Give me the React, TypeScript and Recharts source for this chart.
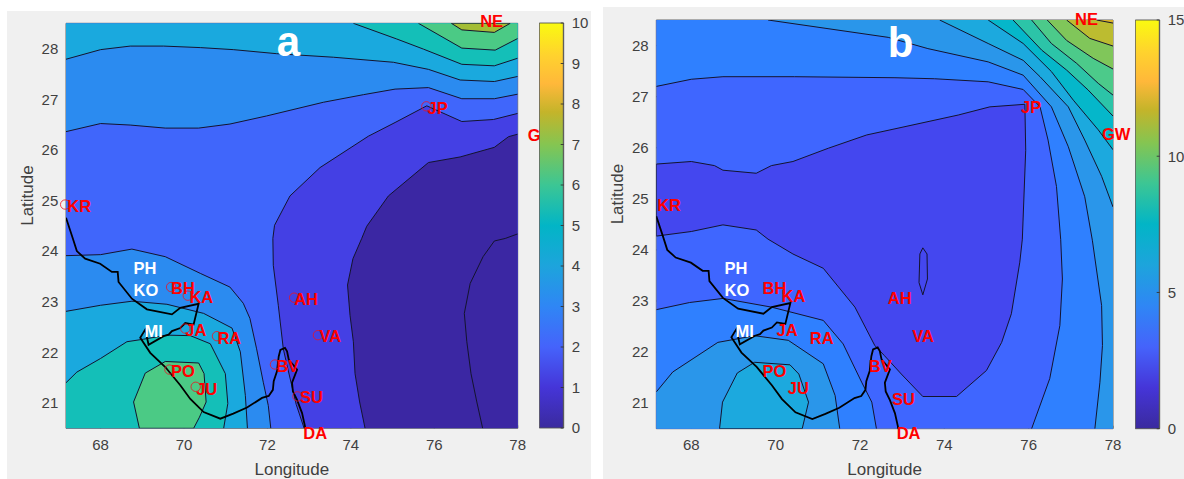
import React from "react"
import {
  Bar,
  BarChart,
  ReferenceDot,
  Scatter,
  ScatterChart,
  XAxis,
  YAxis,
} from "recharts"

type Pt = [number, number]
type Region = { line: Pt[]; close: Pt[]; color: string }
type Tag = [string, number, number]

const LON_MIN = 67.17
const LON_MAX = 78
const LAT_MIN = 20.5
const LAT_MAX = 28.5
const BL: Pt = [LON_MIN, LAT_MIN]
const BR: Pt = [LON_MAX, LAT_MIN]
const TR: Pt = [LON_MAX, LAT_MAX]
const TL: Pt = [LON_MIN, LAT_MAX]

const lonTicks = [68, 70, 72, 74, 76, 78]
const latTicks = [21, 22, 23, 24, 25, 26, 27, 28]
const barTicksA = [0, 1, 2, 3, 4, 5, 6, 7, 8, 9, 10]
const barTicksB = [0, 5, 10, 15]

const coast: Pt[] = [
  [67.17, 24.66], [67.33, 24.26], [67.43, 24.0], [67.63, 23.85], [67.99, 23.75], [68.27, 23.59],
  [68.41, 23.59], [68.43, 23.39], [68.75, 23.06], [69.11, 22.85], [69.71, 22.75], [69.91, 22.88],
  [70.35, 22.96], [70.23, 22.55], [70.03, 22.58], [69.91, 22.48], [69.71, 22.42], [69.63, 22.35],
  [69.51, 22.32], [69.15, 22.15], [69.07, 22.45], [68.95, 22.29], [69.19, 21.99], [69.55, 21.71],
  [69.91, 21.35], [70.15, 21.08], [70.47, 20.82], [70.87, 20.69], [71.18, 20.79], [71.51, 20.91],
  [71.87, 21.1], [72.03, 21.14], [72.13, 21.26], [72.15, 21.43], [72.23, 21.63], [72.27, 21.92],
  [72.31, 22.05], [72.42, 22.09], [72.47, 22.02], [72.51, 21.86], [72.71, 21.66], [72.59, 21.4],
  [72.61, 21.23], [72.71, 21.06], [72.83, 20.8], [72.9, 20.54], [72.9, 20.5],
]

// panel a contours
const a05: Pt[] = [[77.16, 20.5], [77.02, 21.02], [76.88, 21.58], [76.78, 22.21], [76.72, 22.77], [76.86, 23.36], [77.17, 23.89], [77.44, 24.2], [77.7, 24.25], [78, 24.34]]
const a1: Pt[] = [[74.34, 20.5], [74.21, 21.02], [74.1, 21.58], [74.06, 22.21], [73.98, 22.73], [73.92, 23.33], [74.05, 23.85], [74.26, 24.25], [74.38, 24.49], [74.9, 25.09], [75.86, 25.75], [76.62, 25.86], [77.44, 26.05], [77.78, 26.26], [78, 26.31]]
const a2: Pt[] = [[72.88, 20.5], [72.69, 20.97], [72.47, 21.74], [72.38, 22.07], [72.26, 22.93], [72.14, 23.72], [72.13, 24.25], [72.17, 24.51], [72.54, 25.09], [73.26, 25.65], [74.42, 26.27], [75.06, 26.54], [75.82, 26.87], [76.66, 26.56], [77.42, 26.6], [78, 26.72]]
const a3: Pt[] = [[67.17, 26.36], [68, 26.52], [68.71, 26.49], [69.55, 26.43], [70.35, 26.43], [71.1, 26.51], [71.98, 26.67], [73.34, 26.94], [74.3, 27.09], [75.06, 27.2], [75.86, 27.23], [76.66, 27.01], [77.44, 27.01], [78, 27.1]]
const a4: Pt[] = [[67.17, 27.79], [68, 27.98], [68.71, 28.05], [69.51, 28.05], [70.39, 28.02], [71.18, 27.98], [72.22, 27.9], [73.58, 27.83], [75.02, 27.73], [75.86, 27.59], [76.62, 27.38], [77.44, 27.35], [78, 27.45]]
const a5: Pt[] = [[74.06, 28.5], [75.1, 28.19], [75.74, 27.99], [76.66, 27.69], [77.44, 27.66], [78, 27.81]]
const a6: Pt[] = [[75.62, 28.5], [76.66, 28.01], [77.46, 27.97], [78, 28.2]]
const a7: Pt[] = [[76.41, 28.5], [76.66, 28.37], [77.44, 28.32], [77.82, 28.5]]
const aHill3: Pt[] = [[67.17, 23.91], [68, 23.93], [68.75, 24.04], [69.55, 23.89], [70.39, 23.56], [71.1, 23.29], [71.42, 22.97], [71.58, 22.67], [71.74, 22.07], [71.9, 21.41], [72.02, 20.95], [72.08, 20.5]]
const aHill4: Pt[] = [[67.17, 22.81], [68, 22.93], [68.75, 23.01], [69.59, 22.95], [70.47, 22.77], [71.15, 22.48], [71.35, 22.01], [71.47, 21.15], [71.52, 20.5]]
const aHill5: Pt[] = [[67.17, 21.4], [67.43, 21.61], [68, 21.88], [68.63, 22.21], [69.03, 22.26], [69.59, 22.34], [70.15, 22.33], [70.63, 22.17], [70.99, 21.58], [71.05, 20.99], [70.95, 20.5]]
const aHill6: Pt[] = [[68.93, 20.5], [68.79, 21.02], [69.07, 21.59], [69.55, 21.82], [70.35, 21.79], [70.48, 21.58], [70.53, 21.02], [70.37, 20.72], [70.23, 20.5]]

// panel b contours
const bCore: Pt[] = [[67.17, 25.68], [68, 25.73], [68.55, 25.65], [68.75, 25.56], [69.54, 25.5], [69.9, 25.65], [70.41, 25.73], [71.25, 25.99], [72.16, 26.25], [72.83, 26.37], [74.33, 26.64], [75.08, 26.8], [75.91, 26.85], [75.93, 25.95], [75.85, 24.21], [75.79, 23.76], [75.59, 22.75], [75.36, 22.19], [75, 21.64], [74.29, 21.13], [73.49, 21.13], [72.98, 21.57], [72.58, 21.93], [72.35, 22.13], [71.88, 22.88], [71.13, 23.64], [70.41, 23.92], [69.82, 24.21], [69.54, 24.39], [68.75, 24.49], [68, 24.36], [67.17, 24.27]]
const bPocket: Pt[] = [[73.49, 24.04], [73.59, 23.92], [73.6, 23.43], [73.49, 23.12], [73.4, 23.36], [73.42, 23.92], [73.49, 24.04]]
const bLine1: Pt[] = [[67.17, 27.2], [68, 27.34], [68.75, 27.39], [70.45, 27.39], [72.83, 27.37], [73.77, 27.35], [75.04, 27.29], [75.87, 27.14], [76.27, 26.8], [76.46, 26.15], [76.66, 25.24], [76.76, 24.2], [76.8, 23.43], [76.74, 22.52], [76.5, 21.48], [76.07, 20.5]]
const bLine2: Pt[] = [[69.82, 28.5], [72.67, 28.16], [73.61, 27.94], [75.04, 27.68], [75.87, 27.42], [76.54, 26.8], [76.94, 26.02], [77.33, 25.04], [77.51, 24.19], [77.73, 22.91], [77.75, 22.13], [77.69, 21.41], [77.57, 20.5]]
const bLine3: Pt[] = [[73.89, 28.5], [75.04, 28.04], [75.87, 27.71], [76.27, 27.39], [76.94, 26.8], [77.33, 26.15], [77.73, 25.44], [78, 24.84]]
const bLine4: Pt[] = [[75.04, 28.5], [75.87, 28.04], [76.54, 27.49], [77.06, 26.93], [77.65, 26.35], [78, 25.96]]
const bLine5: Pt[] = [[75.63, 28.5], [76.31, 27.91], [76.9, 27.52], [77.41, 27.13], [78, 26.62]]
const bLine6: Pt[] = [[76.07, 28.5], [76.54, 28.04], [77.14, 27.65], [77.65, 27.26], [78, 27.03]]
const bLine7: Pt[] = [[76.44, 28.5], [76.9, 28.1], [77.53, 27.75], [78, 27.54]]
const bLine8: Pt[] = [[76.9, 28.5], [77.45, 28.14], [78, 27.99]]
const bLine9: Pt[] = [[77.61, 28.5], [78, 28.44]]
const bHill1: Pt[] = [[67.17, 22.83], [67.96, 22.97], [68.75, 23.05], [69.9, 22.88], [71.13, 22.62], [71.6, 22.16], [72.04, 21.41], [72.28, 21.02], [72.39, 20.5]]
const bHill2: Pt[] = [[67.17, 21.22], [67.56, 21.61], [68.63, 22.19], [69.5, 22.32], [70.3, 22.23], [71.13, 21.77], [71.41, 21.15], [71.52, 20.5]]
const bHill3: Pt[] = [[68.67, 20.5], [68.74, 21.02], [69.09, 21.59], [69.5, 21.8], [70.34, 21.75], [70.55, 21.57], [70.78, 21.02], [70.63, 20.5]]

const regionsA: Region[] = [
  { line: a2, close: [BR], color: "#4440e4" },
  { line: a1, close: [BR], color: "#3b27a3" },
  { line: a05, close: [BR], color: "#3b27a3" },
  { line: a3, close: [TR, TL], color: "#2b8bf0" },
  { line: a4, close: [TR, TL], color: "#1aa9de" },
  { line: a5, close: [TR], color: "#14bfb8" },
  { line: a6, close: [TR], color: "#4bca85" },
  { line: a7, close: [], color: "#a3bd35" },
  { line: aHill3, close: [BL], color: "#2b8bf0" },
  { line: aHill4, close: [BL], color: "#1aa9de" },
  { line: aHill5, close: [BL], color: "#14bfb8" },
  { line: aHill6, close: [], color: "#4bca85" },
]

const regionsB: Region[] = [
  { line: bCore, close: [], color: "#4447ef" },
  { line: bPocket, close: [], color: "#4447ef" },
  { line: bLine1, close: [BR, TR, TL], color: "#2f80ff" },
  { line: bLine2, close: [BR, TR], color: "#2a96ea" },
  { line: bLine3, close: [TR], color: "#1ca9de" },
  { line: bLine4, close: [TR], color: "#05b7ca" },
  { line: bLine5, close: [TR], color: "#2cc4a8" },
  { line: bLine6, close: [TR], color: "#4cca8a" },
  { line: bLine7, close: [TR], color: "#80c65a" },
  { line: bLine8, close: [TR], color: "#bcbc30" },
  { line: bLine9, close: [TR], color: "#d8b02a" },
  { line: bHill1, close: [BL], color: "#2f80ff" },
  { line: bHill2, close: [BL], color: "#2a96ea" },
  { line: bHill3, close: [], color: "#1ca9de" },
]

const namesA: Tag[] = [
  ["KR", 67.2, 24.77], ["BH", 69.69, 23.15], ["KA", 70.13, 22.98], ["JA", 70.03, 22.33], ["RA", 70.8, 22.17],
  ["PO", 69.69, 21.51], ["JU", 70.29, 21.16], ["BV", 72.21, 21.61], ["AH", 72.64, 22.94], ["VA", 73.25, 22.2],
  ["SU", 72.78, 20.99], ["DA", 72.86, 20.29], ["JP", 75.84, 26.7], ["NE", 77.1, 28.43], ["GW", 78.24, 26.17],
]
const whiteNamesA: Tag[] = [["PH", 68.79, 23.54], ["KO", 68.79, 23.12], ["MI", 69.05, 22.31]]
const stationsA: Pt[] = [
  [67.15, 24.92], [69.69, 23.29], [70.09, 23.12], [70.03, 22.47], [70.79, 22.32], [69.65, 21.66],
  [70.28, 21.32], [72.18, 21.76], [72.64, 23.08], [73.21, 22.34], [72.72, 21.13], [75.81, 26.86],
]

const namesB: Tag[] = [
  ["KR", 67.19, 24.76], ["BH", 69.69, 23.14], ["KA", 70.14, 22.98], ["JA", 70.02, 22.32], ["RA", 70.81, 22.15],
  ["PO", 69.69, 21.51], ["JU", 70.29, 21.17], ["BV", 72.21, 21.61], ["AH", 72.66, 22.94], ["VA", 73.24, 22.19],
  ["SU", 72.76, 20.97], ["DA", 72.87, 20.3], ["JP", 75.82, 26.67], ["NE", 77.1, 28.41], ["GW", 77.74, 26.16],
]
const whiteNamesB: Tag[] = [["PH", 68.79, 23.52], ["KO", 68.79, 23.1], ["MI", 69.05, 22.29]]

const colorStops: [number, string][] = [
  [0, "#3a2a9e"], [0.1, "#4535d8"], [0.2, "#4563fb"], [0.3, "#2f86f5"], [0.4, "#1da4dc"], [0.5, "#02b5c6"],
  [0.6, "#3cc694"], [0.7, "#85c551"], [0.78, "#c4b42a"], [0.85, "#ffb83a"], [0.92, "#ffd22e"], [1, "#fafa10"],
]

const FONT = "'Liberation Sans', Arial, sans-serif"
const INK = "#404040"
const LINE = "#14142e"

const toXY = (pts: Pt[]) => pts.map(([x, y]) => ({ x, y }))
const noDot = () => <g />

function Fill({ pts, color }: { pts: Pt[]; color: string }) {
  return (
    <Scatter
      data={toXY(pts)}
      shape={noDot}
      line={{ fill: color, stroke: "none" }}
      lineJointType="linearClosed"
      isAnimationActive={false}
    />
  )
}

function Stroke({ pts, width, color }: { pts: Pt[]; width: number; color: string }) {
  return (
    <Scatter
      data={toXY(pts)}
      shape={noDot}
      line={{ fill: "none", stroke: color, strokeWidth: width }}
      lineJointType="linear"
      isAnimationActive={false}
    />
  )
}

function tagDot([name, lon, lat]: Tag, color: string, size: number) {
  return (
    <ReferenceDot
      key={name + color}
      x={lon}
      y={lat}
      ifOverflow="visible"
      shape={(p: any) => (
        <text x={p.cx} y={p.cy} fill={color} fontSize={size} fontWeight="bold" fontFamily={FONT}>
          {name}
        </text>
      )}
    />
  )
}

function ContourMap({
  width,
  height,
  margin,
  yWidth,
  xHeight,
  regions,
  names,
  whiteNames,
  stations,
  letter,
}: {
  width: number
  height: number
  margin: { top: number; right: number }
  yWidth: number
  xHeight: number
  regions: Region[]
  names: Tag[]
  whiteNames: Tag[]
  stations: Pt[]
  letter: Tag
}) {
  const tick = { fill: INK, fontSize: 15, fontFamily: FONT }
  const axisLine = { stroke: "#555", strokeWidth: 0.9 }
  return (
    <ScatterChart width={width} height={height} margin={{ top: margin.top, right: margin.right, left: 0, bottom: 0 }}>
      <XAxis
        type="number"
        dataKey="x"
        domain={[LON_MIN, LON_MAX]}
        ticks={lonTicks}
        allowDataOverflow
        height={xHeight}
        tick={tick}
        tickSize={-3}
        tickMargin={14}
        axisLine={axisLine}
        tickLine={axisLine}
        label={{ value: "Longitude", position: "insideBottom", offset: 4, fill: INK, fontSize: 17, fontFamily: FONT }}
      />
      <YAxis
        type="number"
        dataKey="y"
        domain={[LAT_MIN, LAT_MAX]}
        ticks={latTicks}
        allowDataOverflow
        width={yWidth}
        tick={tick}
        tickSize={-3}
        tickMargin={10.7}
        axisLine={axisLine}
        tickLine={axisLine}
        label={{ value: "Latitude", angle: -90, position: "insideLeft", offset: yWidth - 39.5, fill: INK, fontSize: 17, fontFamily: FONT }}
      />
      <XAxis xAxisId="top" orientation="top" type="number" domain={[LON_MIN, LON_MAX]} ticks={lonTicks} allowDataOverflow height={1} tick={false} tickSize={-3} axisLine={axisLine} tickLine={axisLine} />
      <YAxis yAxisId="right" orientation="right" type="number" domain={[LAT_MIN, LAT_MAX]} ticks={latTicks} allowDataOverflow width={1} tick={false} tickSize={-3} axisLine={axisLine} tickLine={axisLine} />

      <Fill pts={[BL, BR, TR, TL]} color={regions === regionsA ? "#4066fb" : "#3f66ff"} />
      {regions.map((r, i) => (
        <Fill key={`f${i}`} pts={[...r.line, ...r.close]} color={r.color} />
      ))}
      {regions.map((r, i) => (
        <Stroke key={`s${i}`} pts={r.close.length ? r.line : [...r.line, r.line[0]]} width={1} color={LINE} />
      ))}
      <Stroke pts={coast} width={1.8} color="#000" />

      {stations.map(([lon, lat], i) => (
        <ReferenceDot key={i} x={lon} y={lat} r={4.7} ifOverflow="visible" fill="none" stroke="#f01020" strokeWidth={0.8} />
      ))}
      {names.map((t) => tagDot(t, "#ff0000", 16.5))}
      {whiteNames.map((t) => tagDot(t, "#ffffff", 16.5))}
      {tagDot(letter, "#ffffff", 42)}
    </ScatterChart>
  )
}

function ColorBar({ id, max, ticks, height }: { id: string; max: number; ticks: number[]; height: number }) {
  const data = [{ name: "scale", value: max }]
  return (
    <BarChart width={56} height={height} data={data} barCategoryGap={0} margin={{ top: 10, right: 0, left: 0.3, bottom: 10 }}>
      <defs>
        <linearGradient id={id} x1="0" y1="1" x2="0" y2="0">
          {colorStops.map(([at, c]) => (
            <stop key={at} offset={at} stopColor={c} />
          ))}
        </linearGradient>
      </defs>
      <XAxis dataKey="name" hide />
      <YAxis
        orientation="right"
        type="number"
        domain={[0, max]}
        ticks={ticks}
        width={31.3}
        tick={{ fill: INK, fontSize: 15, fontFamily: FONT }}
        tickSize={-3}
        tickMargin={11}
        axisLine={{ stroke: "#555", strokeWidth: 0.9 }}
        tickLine={{ stroke: "#333", strokeWidth: 0.9 }}
      />
      <Bar dataKey="value" fill={`url(#${id})`} stroke="#555" strokeWidth={0.9} isAnimationActive={false} />
    </BarChart>
  )
}

export default function App() {
  return (
    <div style={{ position: "absolute", left: 0, top: 0, width: 1184, height: 479, overflow: "hidden", background: "#fff" }}>
      <div style={{ position: "absolute", left: 7, top: 11, width: 584, height: 468, background: "#f0f0f0" }}>
        <ContourMap
          width={584}
          height={468}
          margin={{ top: 11.3, right: 72.3 }}
          yWidth={59}
          xHeight={50.7}
          regions={regionsA}
          names={namesA}
          whiteNames={whiteNamesA}
          stations={stationsA}
          letter={["a", 72.22, 27.85]}
        />
      </div>
      <div style={{ position: "absolute", left: 539, top: 13.3 }}>
        <ColorBar id="parulaA" max={10} ticks={barTicksA} height={425} />
      </div>
      <div style={{ position: "absolute", left: 603, top: 7, width: 581, height: 472, background: "#f0f0f0" }}>
        <ContourMap
          width={581}
          height={472}
          margin={{ top: 12, right: 70 }}
          yWidth={53.3}
          xHeight={50.3}
          regions={regionsB}
          names={namesB}
          whiteNames={whiteNamesB}
          stations={[]}
          letter={["b", 72.66, 27.78]}
        />
      </div>
      <div style={{ position: "absolute", left: 1135, top: 10 }}>
        <ColorBar id="parulaB" max={15} ticks={barTicksB} height={428.7} />
      </div>
    </div>
  )
}
